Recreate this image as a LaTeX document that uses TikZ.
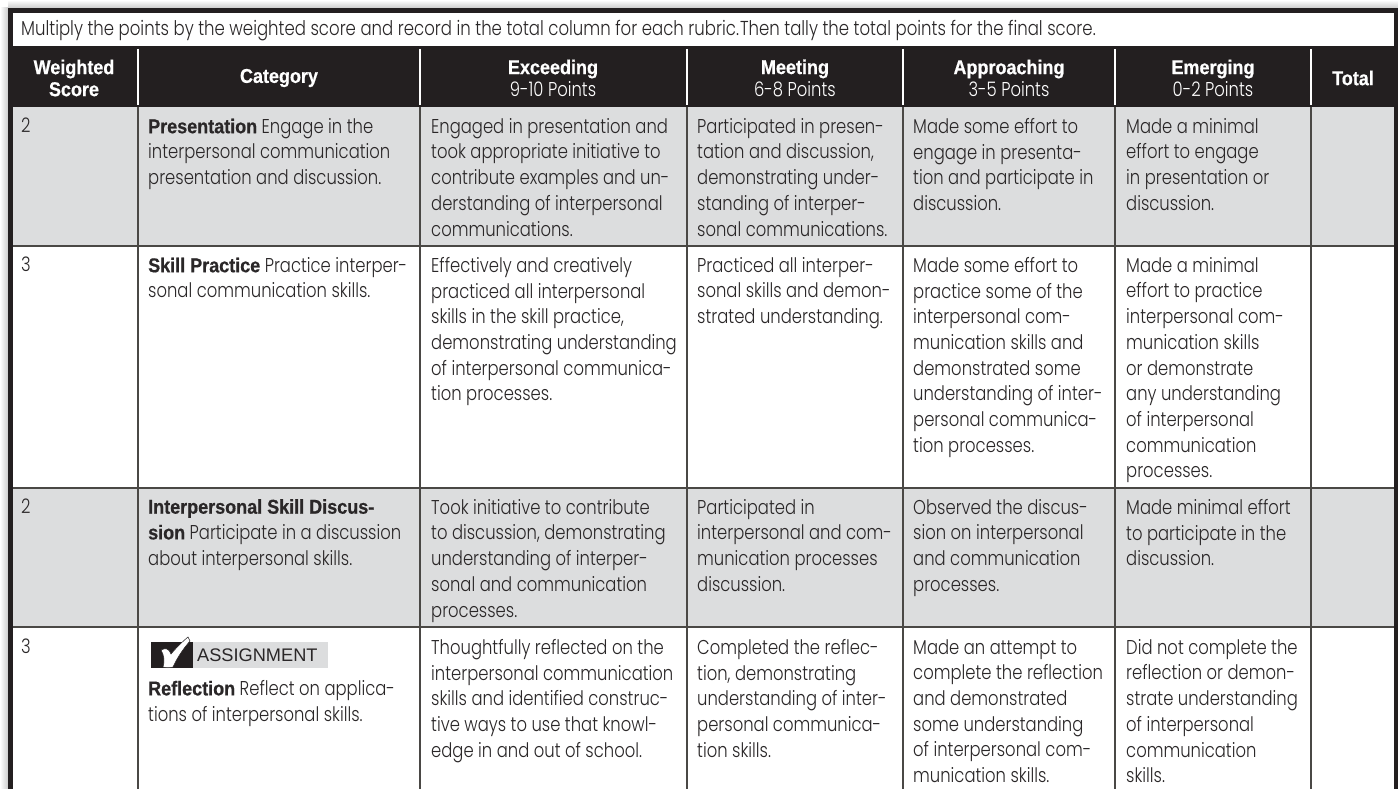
\documentclass[tikz,border=0pt]{standalone}
\usepackage{fontspec}
\setmainfont{Poppins}[UprightFont=* Light,BoldFont=* SemiBold,FakeStretch=0.82]
\newfontfamily\hfont{Liberation Sans Bold}[FakeStretch=0.9,FakeBold=0.6]
\newfontfamily\tagfont{Liberation Sans}
\definecolor{bk}{HTML}{231F20}
\definecolor{gy}{HTML}{DCDDDE}
\definecolor{tx}{HTML}{2A2728}
\definecolor{rule}{HTML}{4A4845}
\newcommand{\bb}[1]{{\hfont #1}}
\tikzset{x=1pt,y=-1pt,
 cell/.style={anchor=north west,inner sep=0pt,align=left,text=tx,font=\fontsize{20}{25.7}\selectfont},
 head/.style={anchor=center,inner sep=0pt,align=center,text=white,font=\fontsize{20}{22}\selectfont},
 hrule/.style={draw=rule,line width=1.6pt},
 vrule/.style={draw=rule,line width=1.6pt},
 hdiv/.style={draw=white,line width=2pt}}
\begin{document}
\begin{tikzpicture}
\useasboundingbox (0,0) rectangle (1398,789);
\fill[white] (0,0) rectangle (1398,789);
\shade[left color=white,right color=black!20] (0,8) rectangle (8,789);
\shade[top color=white,bottom color=black!20] (8,0) rectangle (1398,8);
\fill[bk] (8,8) rectangle (1398,107);
\fill[bk] (8,107) rectangle (13,789);
\fill[bk] (1394,107) rectangle (1398,789);
\fill[white] (13,13.5) rectangle (1394,46);
\fill[gy] (13,107) rectangle (1394,246);
\fill[gy] (13,488) rectangle (1394,627);
\foreach \yy in {246,488,627} \draw[hrule] (13,\yy) -- (1394,\yy);
\foreach \xx in {138,420,687,903,1115,1311} {
  \draw[vrule] (\xx,107) -- (\xx,789);
  \draw[hdiv] (\xx,49) -- (\xx,105);
}
% banner
\node[cell,anchor=west,font=\fontsize{20.17}{25.7}\selectfont] (banner) at (21,31) {Multiply the points by the weighted score and record in the total column for each rubric.\kern1pt Then tally the total points for the final score.};
% header
\node[head] (h1) at (74,78) {\hfont Weighted\\\hfont Score};
\node[head] (h2) at (279,78) {\hfont Category};
\node[head] (h3) at (553,78) {\hfont Exceeding\\9-10 Points};
\node[head] (h4) at (795,78) {\hfont Meeting\\6-8 Points};
\node[head] (h5) at (1009,78) {\hfont Approaching\\3-5 Points};
\node[head] (h6) at (1213,78) {\hfont Emerging\\0-2 Points};
\node[head] (h7) at (1353,78) {\hfont Total};
% row 1
\node[cell] (a1) at (21,118) {2};
\node[cell] (b1) at (148,118) {\bb{Presentation} Engage in the\\interpersonal communication\\presentation and discussion.};
\node[cell] (c1) at (431,118) {Engaged in presentation and\\took appropriate initiative to\\contribute examples and un-\\derstanding of interpersonal\\communications.};
\node[cell] (d1) at (697,118) {Participated in presen-\\tation and discussion,\\demonstrating under-\\standing of interper-\\sonal communications.};
\node[cell] (e1) at (913,118) {Made some effort to\\engage in presenta-\\tion and participate in\\discussion.};
\node[cell] (f1) at (1126,118) {Made a minimal\\effort to engage\\in presentation or\\discussion.};
% row 2
\node[cell] (a2) at (21,257) {3};
\node[cell] (b2) at (148,257) {\bb{Skill Practice} Practice interper-\\sonal communication skills.};
\node[cell] (c2) at (431,257) {Effectively and creatively\\practiced all interpersonal\\skills in the skill practice,\\demonstrating understanding\\of interpersonal communica-\\tion processes.};
\node[cell] (d2) at (697,257) {Practiced all interper-\\sonal skills and demon-\\strated understanding.};
\node[cell] (e2) at (913,257) {Made some effort to\\practice some of the\\interpersonal com-\\munication skills and\\demonstrated some\\understanding of inter-\\personal communica-\\tion processes.};
\node[cell] (f2) at (1126,257) {Made a minimal\\effort to practice\\interpersonal com-\\munication skills\\or demonstrate\\any understanding\\of interpersonal\\communication\\processes.};
% row 3
\node[cell] (a3) at (21,499) {2};
\node[cell] (b3) at (148,499) {\bb{Interpersonal Skill Discus-}\\\bb{sion} Participate in a discussion\\about interpersonal skills.};
\node[cell] (c3) at (431,499) {Took initiative to contribute\\to discussion, demonstrating\\understanding of interper-\\sonal and communication\\processes.};
\node[cell] (d3) at (697,499) {Participated in\\interpersonal and com-\\munication processes\\discussion.};
\node[cell] (e3) at (913,499) {Observed the discus-\\sion on interpersonal\\and communication\\processes.};
\node[cell] (f3) at (1126,499) {Made minimal effort\\to participate in the\\discussion.};
% row 4
\node[cell] (a4) at (21,639) {3};
\fill[gy] (151,642) rectangle (328,668);
\fill[bk] (151,642) rectangle (193,668);
\draw[fill=white,draw=bk,line width=0.5pt] (161,650) .. controls (165,648) and (169,648) .. (171,654) .. controls (176,648) and (182,642) .. (188,637) -- (190,641) .. controls (183,649) and (177,658) .. (173,667) .. controls (170,668) and (166,668) .. (163,667) .. controls (165,661) and (164,655) .. (161,650) -- cycle;
\node[anchor=west,inner sep=0pt,text=tx,font=\tagfont\fontsize{18.2}{19}\selectfont] (tag) at (197,655) {ASSIGNMENT};
\node[cell] (b4) at (148,680) {\bb{Reflection} Reflect on applica-\\tions of interpersonal skills.};
\node[cell] (c4) at (431,639) {Thoughtfully reflected on the\\interpersonal communication\\skills and identified construc-\\tive ways to use that knowl-\\edge in and out of school.};
\node[cell] (d4) at (697,639) {Completed the reflec-\\tion, demonstrating\\understanding of inter-\\personal communica-\\tion skills.};
\node[cell] (e4) at (913,639) {Made an attempt to\\complete the reflection\\and demonstrated\\some understanding\\of interpersonal com-\\munication skills.};
\node[cell] (f4) at (1126,639) {Did not complete the\\reflection or demon-\\strate understanding\\of interpersonal\\communication\\skills.};
\end{tikzpicture}
\end{document}
